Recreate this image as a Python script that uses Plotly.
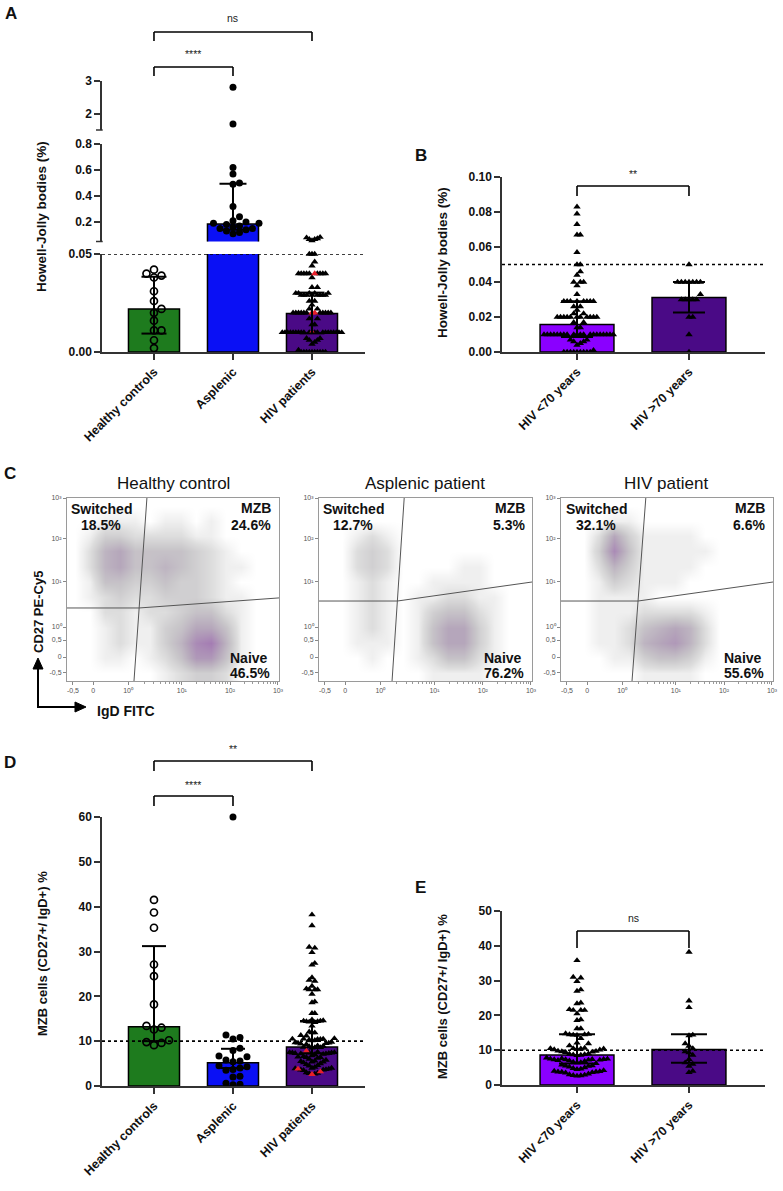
import math
import plotly.graph_objects as go

W, H = 783, 1191
FONT = "Arial, 'Liberation Sans', Helvetica, sans-serif"

# ------------------------------------------------------------------ data
cat_main = ["Healthy controls", "Asplenic", "HIV patients"]
cat_age = ["HIV &lt;70 years", "HIV &gt;70 years"]

# Panel A / B : Howell-Jolly bodies (%)
hc_hj = [0.042, 0.040, 0.039, 0.038, 0.031, 0.026, 0.022, 0.020, 0.016, 0.011, 0.011, 0.006, 0.002]
asp_hj = [2.81, 1.68, 0.62, 0.57, 0.50, 0.49, 0.32, 0.24, 0.21, 0.20, 0.19, 0.19, 0.18,
          0.17, 0.16, 0.15, 0.15, 0.14, 0.13, 0.12, 0.11]
hiv_lt70_hj = [0.083, 0.079, 0.073, 0.067, 0.067, 0.057, 0.050, 0.050, 0.046, 0.044,
               0.040, 0.040, 0.040, 0.038, 0.033,
               0.029, 0.029, 0.029, 0.029, 0.029, 0.029, 0.029, 0.029,
               0.026, 0.026, 0.024, 0.022, 0.022,
               0.020, 0.020, 0.020, 0.020, 0.020, 0.020, 0.020, 0.020, 0.020, 0.020, 0.020,
               0.017, 0.017, 0.014, 0.014,
               0.010, 0.010, 0.010, 0.010, 0.010, 0.010, 0.010, 0.010, 0.010, 0.010,
               0.010, 0.010, 0.010, 0.010, 0.010, 0.010, 0.010, 0.010, 0.010, 0.010,
               0.007, 0.007, 0.006, 0.006, 0.005, 0.004, 0.001,
               0.000, 0.000, 0.000, 0.000, 0.000, 0.000, 0.000, 0.000, 0.000]
hiv_gt70_hj = [0.050, 0.040, 0.040, 0.040, 0.040, 0.040, 0.040, 0.040, 0.033,
               0.030, 0.030, 0.030, 0.030, 0.030, 0.020, 0.020, 0.010, 0.000]
hiv_hj = hiv_lt70_hj + hiv_gt70_hj
hiv_hj_red = [0.040, 0.020, 0.020, 0.010]

bar_hj = [0.022, 0.185, 0.0197]
err_hj_lo = [0.0094, 0.14, 0.0095]
err_hj_hi = [0.0384, 0.495, 0.0303]
bar_hj_age = [0.0157, 0.0312]
err_hj_age_lo = [0.0086, 0.0226]
err_hj_age_hi = [0.029, 0.040]

# Panel D / E : MZB cells (CD27+/IgD+) %
hc_mzb = [41.5, 38.7, 35.3, 27.1, 24.5, 18.2, 13.4, 13.0, 12.6, 10.2, 9.8, 9.6, 9.1]
asp_mzb = [60.0, 11.4, 10.8, 10.5, 8.4, 7.9, 6.7, 6.5, 5.8, 5.6, 5.4, 4.5, 4.3, 4.0,
           3.7, 3.5, 2.2, 2.0, 0.6, 0.4, 0.3]
hiv_lt70_mzb = [35.8, 31.0, 30.8, 29.8, 27.4, 27.0, 23.6, 23.4, 21.7, 21.5, 21.5, 21.5,
                20.5, 18.8, 18.6, 16.2, 16.2, 14.8, 14.6, 14.5, 14.5, 14.4, 14.3, 13.4,
                12.1, 11.9, 11.3, 10.6, 10.5, 10.5, 10.4, 10.4, 10.3, 10.2, 10.1, 9.8,
                9.7, 9.6, 9.5, 9.4, 9.0, 8.9, 8.8, 8.7, 8.6, 8.5, 7.8, 7.6, 7.5, 7.5,
                7.4, 7.4, 7.3, 7.3, 7.2, 7.2, 7.1, 7.0, 6.8, 6.6, 6.5, 6.4, 6.2, 5.8,
                5.6, 5.5, 5.4, 5.2, 5.0, 4.8, 4.6, 4.5, 4.2, 4.0, 3.9, 3.8, 3.8, 3.7,
                3.6, 3.5, 3.2, 3.0, 2.9, 2.8, 2.7, 2.6]
hiv_gt70_mzb = [38.2, 24.2, 22.3, 14.4, 14.2, 11.9, 11.2, 10.5, 9.6, 9.3, 8.6, 7.4,
                6.4, 6.0, 5.4, 4.0, 3.6]
hiv_mzb = hiv_lt70_mzb + hiv_gt70_mzb
hiv_mzb_red = [8.0, 3.8, 3.2, 2.6]

bar_mzb = [13.2, 5.2, 8.7]
err_mzb_lo = [10.0, 4.0, 7.3]
err_mzb_hi = [31.2, 8.3, 14.5]
bar_mzb_age = [8.6, 10.2]
err_mzb_age_lo = [6.2, 6.4]
err_mzb_age_hi = [14.6, 14.6]

# Panel C : flow cytometry (density read as 0-9 levels, 14 cols x 12 rows, top row first)
flow_titles = ["Healthy control", "Asplenic patient", "HIV patient"]
pct_switched = ["18.5%", "12.7%", "32.1%"]
pct_mzb = ["24.6%", "5.3%", "6.6%"]
pct_naive = ["46.5%", "76.2%", "55.6%"]
density_hc = [
    [0, 0, 0, 0, 0, 0, 0, 0, 0, 0, 0, 0, 0, 0],
    [0, 0, 1, 1, 1, 0, 1, 1, 0, 1, 0, 0, 0, 0],
    [0, 1, 3, 3, 2, 2, 2, 2, 1, 1, 0, 0, 0, 0],
    [0, 2, 5, 6, 4, 4, 4, 4, 3, 2, 1, 0, 0, 0],
    [0, 2, 5, 6, 4, 4, 5, 4, 3, 2, 1, 1, 0, 0],
    [0, 1, 4, 4, 3, 3, 4, 3, 3, 2, 1, 0, 0, 0],
    [0, 1, 2, 3, 2, 2, 3, 3, 3, 2, 1, 1, 0, 0],
    [0, 0, 2, 2, 1, 2, 2, 3, 4, 4, 2, 1, 0, 0],
    [0, 0, 1, 2, 1, 1, 3, 4, 6, 6, 4, 1, 0, 0],
    [0, 0, 1, 2, 1, 1, 3, 5, 8, 9, 5, 1, 0, 0],
    [0, 0, 1, 1, 0, 1, 2, 4, 7, 7, 4, 1, 0, 0],
    [0, 0, 0, 0, 0, 0, 1, 2, 3, 3, 2, 0, 0, 0],
]
density_asp = [
    [0, 0, 0, 0, 0, 0, 0, 0, 0, 0, 0, 0, 0, 0],
    [0, 0, 0, 0, 0, 0, 0, 0, 0, 0, 0, 0, 0, 0],
    [0, 0, 1, 2, 1, 0, 0, 0, 0, 0, 0, 0, 0, 0],
    [0, 0, 2, 3, 2, 0, 0, 0, 0, 0, 0, 0, 0, 0],
    [0, 0, 2, 3, 2, 0, 0, 0, 0, 1, 1, 0, 0, 0],
    [0, 0, 1, 2, 1, 0, 0, 1, 1, 1, 1, 0, 0, 0],
    [0, 0, 1, 2, 1, 0, 1, 1, 2, 2, 1, 1, 0, 0],
    [0, 0, 1, 2, 1, 0, 1, 3, 4, 4, 2, 1, 0, 0],
    [0, 0, 1, 2, 1, 0, 1, 4, 6, 6, 3, 1, 0, 0],
    [0, 0, 1, 1, 1, 0, 1, 4, 6, 6, 3, 1, 0, 0],
    [0, 0, 0, 1, 0, 0, 1, 2, 4, 4, 2, 1, 0, 0],
    [0, 0, 0, 0, 0, 0, 0, 1, 1, 1, 1, 0, 0, 0],
]
density_hiv = [
    [0, 0, 0, 0, 0, 0, 0, 0, 0, 0, 0, 0, 0, 0],
    [0, 0, 0, 1, 1, 0, 0, 0, 0, 0, 0, 0, 0, 0],
    [0, 0, 2, 6, 3, 1, 1, 1, 1, 0, 0, 0, 0, 0],
    [0, 0, 3, 8, 4, 1, 1, 1, 1, 1, 0, 0, 0, 0],
    [0, 0, 2, 5, 3, 1, 1, 1, 1, 0, 0, 0, 0, 0],
    [0, 0, 1, 3, 2, 1, 1, 1, 0, 0, 0, 0, 0, 0],
    [0, 0, 1, 1, 1, 1, 0, 0, 0, 0, 0, 0, 0, 0],
    [0, 0, 1, 1, 1, 2, 2, 2, 2, 1, 0, 0, 0, 0],
    [0, 0, 1, 1, 2, 4, 5, 6, 5, 2, 0, 0, 0, 0],
    [0, 0, 1, 1, 2, 5, 6, 7, 5, 2, 0, 0, 0, 0],
    [0, 0, 0, 1, 1, 3, 4, 4, 3, 1, 0, 0, 0, 0],
    [0, 0, 0, 0, 0, 1, 1, 1, 1, 0, 0, 0, 0, 0],
]
# gates: vertical line top/bottom x, horizontal line left/right y (axis fractions)
gate_vert_top = [0.377, 0.400, 0.400]
gate_vert_bot = [0.316, 0.343, 0.335]
gate_h_left = [0.399, 0.437, 0.437]
gate_h_right = [0.454, 0.541, 0.541]
flow_x_ticks = [0.028, 0.123, 0.288, 0.542, 0.769, 0.995]
flow_x_text = ["-0,5", "0", "10⁰", "10¹", "10²", "10³"]
flow_y_ticks = [0.044, 0.131, 0.224, 0.295, 0.546, 0.776, 1.0]
flow_y_text = ["-0,5", "0", "0,5", "10⁰", "10¹", "10²", "10³"]

# ------------------------------------------------------------------ helpers
def P(x):
    return x / W


def Q(y):
    return 1 - y / H


def swarm(vals, to_px, step, dy_min):
    order = sorted(range(len(vals)), key=lambda i: vals[i])
    cands = [0]
    for n in range(1, 80):
        cands += [n, -n]
    placed = []
    offs = [0.0] * len(vals)
    for i in order:
        y = to_px(vals[i])
        xx = 0
        for c in cands:
            xx = c * step
            if all(not (abs(px_ - xx) < step * 0.999 and abs(py_ - y) < dy_min) for px_, py_ in placed):
                break
        placed.append((xx, y))
        offs[i] = xx
    return offs


def flagged(vals, flags):
    used = set()
    for f in flags:
        best = min((i for i in range(len(vals)) if i not in used), key=lambda i: abs(vals[i] - f))
        used.add(best)
    return used


def a_px(v):
    if v <= 0.05:
        return v * 1960
    if v <= 0.8:
        return 110.5 + (v - 0.05) * 130
    return 222.0 + (v - 1.5) * 32.7


GREEN = "#1e7b1e"
BLUE = "#0a10f5"
INDIGO = "#4a0a86"
VIOLET = "#8a00ff"
RED = "#e8202a"
TRI = 6.5

fig = go.Figure()

# ------------------------------------------------------------------ axes
yfont = dict(family=FONT, size=12, color="#111", weight="bold")
xfont = dict(family=FONT, size=12.5, color="#111", weight="bold")
ycommon = dict(showline=True, linecolor="#333", linewidth=1.5, ticks="outside", ticklen=6,
               tickwidth=1.5, tickcolor="#333", showgrid=False, zeroline=False,
               tickfont=yfont, fixedrange=True, automargin=False)
xcommon = dict(showline=True, linecolor="#333", linewidth=1.5, ticks="outside", ticklen=6,
               tickwidth=1.5, tickcolor="#333", showgrid=False, zeroline=False,
               tickfont=xfont, tickangle=-45, fixedrange=True, automargin=False)

A_XD = [P(102), P(365)]
A_XR = [-0.658, 2.671]
B_XD = [P(502), P(765)]
B_XR = [-0.670, 1.679]

layout = dict(
    width=W, height=H, margin=dict(l=0, r=0, t=0, b=0, pad=0, autoexpand=False),
    paper_bgcolor="white", plot_bgcolor="white", showlegend=False,
    font=dict(family=FONT, color="#111"),
)
# A (broken axis: three stacked segments)
layout["xaxis"] = dict(xcommon, domain=A_XD, range=A_XR, anchor="y",
                       tickvals=[0, 1, 2], ticktext=cat_main)
layout["yaxis"] = dict(ycommon, domain=[Q(352), Q(254)], range=[0, 0.05], anchor="x",
                       tickvals=[0, 0.05], ticktext=["0.00", "0.05"])
layout["xaxis2"] = dict(domain=A_XD, range=A_XR, anchor="y2", visible=False, fixedrange=True, automargin=False)
layout["yaxis2"] = dict(ycommon, domain=[Q(241.5), Q(144)], range=[0.05, 0.8], anchor="x2",
                        tickvals=[0.2, 0.4, 0.6, 0.8], ticktext=["0.2", "0.4", "0.6", "0.8"])
layout["xaxis3"] = dict(domain=A_XD, range=A_XR, anchor="y3", visible=False, fixedrange=True, automargin=False)
layout["yaxis3"] = dict(ycommon, domain=[Q(130), Q(81)], range=[1.5, 3], anchor="x3",
                        tickvals=[2, 3], ticktext=["2", "3"])
# B
layout["xaxis4"] = dict(xcommon, domain=B_XD, range=B_XR, anchor="y4",
                        tickvals=[0, 1], ticktext=cat_age)
layout["yaxis4"] = dict(ycommon, domain=[Q(352), Q(177)], range=[0, 0.1], anchor="x4",
                        tickvals=[0, 0.02, 0.04, 0.06, 0.08, 0.10],
                        ticktext=["0.00", "0.02", "0.04", "0.06", "0.08", "0.10"])
# C
dec = [(flow_x_ticks[2], flow_x_ticks[3]), (flow_x_ticks[3], flow_x_ticks[4]), (flow_x_ticks[4], flow_x_ticks[5])]
minor_x = [a + (b - a) * math.log10(m) for a, b in dec for m in range(2, 10)]
flow_xd = [[P(67), P(279)], [P(319), P(532)], [P(561), P(773)]]
for k in range(3):
    xa = "xaxis%d" % (5 + k)
    ya = "yaxis%d" % (5 + k)
    fl = dict(showline=True, mirror=True, linecolor="#9a9a9a", linewidth=1, ticks="outside",
              ticklen=3, tickwidth=1, tickcolor="#888", showgrid=False, zeroline=False,
              tickfont=dict(family=FONT, size=7, color="#555"), range=[0, 1], fixedrange=True,
              automargin=False)
    layout[xa] = dict(fl, domain=flow_xd[k], anchor="y%d" % (5 + k),
                      tickvals=flow_x_ticks, ticktext=flow_x_text,
                      minor=dict(tickvals=minor_x, ticks="outside", ticklen=2, tickcolor="#999", showgrid=False))
    layout[ya] = dict(fl, domain=[Q(681), Q(498)], anchor="x%d" % (5 + k),
                      tickvals=flow_y_ticks, ticktext=flow_y_text)
# D
layout["xaxis8"] = dict(xcommon, domain=A_XD, range=A_XR, anchor="y8",
                        tickvals=[0, 1, 2], ticktext=cat_main)
layout["yaxis8"] = dict(ycommon, domain=[Q(1086), Q(817)], range=[0, 60], anchor="x8",
                        tickvals=[0, 10, 20, 30, 40, 50, 60])
# E
layout["xaxis9"] = dict(xcommon, domain=B_XD, range=B_XR, anchor="y9",
                        tickvals=[0, 1], ticktext=cat_age)
layout["yaxis9"] = dict(ycommon, domain=[Q(1085), Q(911)], range=[0, 50], anchor="x9",
                        tickvals=[0, 10, 20, 30, 40, 50])

# ------------------------------------------------------------------ bars
def add_bars(xs, ys, colors, width, xa, ya):
    fig.add_trace(go.Bar(x=xs, y=ys, width=width, marker=dict(color=colors, line=dict(color="black", width=1.5)),
                         xaxis=xa, yaxis=ya, hoverinfo="skip"))


add_bars([0, 1, 2], bar_hj, [GREEN, BLUE, INDIGO], 0.646, "x", "y")
add_bars([1], [bar_hj[1]], [BLUE], 0.646, "x2", "y2")
add_bars([0, 1], bar_hj_age, [VIOLET, INDIGO], 0.66, "x4", "y4")
add_bars([0, 1, 2], bar_mzb, [GREEN, BLUE, INDIGO], 0.646, "x8", "y8")
add_bars([0, 1], bar_mzb_age, [VIOLET, INDIGO], 0.66, "x9", "y9")


# ------------------------------------------------------------------ points
def add_points(xs, ys, symbol, color, size, xa, ya, open_=False):
    if not xs:
        return
    if open_:
        mk = dict(symbol="circle-open", size=size, color="black", line=dict(width=1.7, color="black"))
    else:
        mk = dict(symbol=symbol, size=size, color=color, line=dict(width=0))
    fig.add_trace(go.Scatter(x=xs, y=ys, mode="markers", marker=mk, cliponaxis=False,
                             xaxis=xa, yaxis=ya, hoverinfo="skip"))


def a_axis(v):
    if v <= 0.05:
        return ("x", "y")
    if v <= 0.8:
        return ("x2", "y2")
    return ("x3", "y3")


def group_points(vals, center, offs, ppu, axis_fn, symbol, size, open_=False, red_idx=()):
    buckets = {}
    for i, v in enumerate(vals):
        ax = axis_fn(v)
        col = RED if i in red_idx else "black"
        buckets.setdefault((ax, col), ([], []))
        buckets[(ax, col)][0].append(center + offs[i] / ppu)
        buckets[(ax, col)][1].append(v)
    for (ax, col), (xs, ys) in sorted(buckets.items(), key=lambda kv: kv[0][1] == RED):
        add_points(xs, ys, symbol, col, size, ax[0], ax[1], open_=open_)


# A
group_points(hc_hj, 0, swarm(hc_hj, a_px, 7.5, 7.5), 79, a_axis, "circle", 7, open_=True)
group_points(asp_hj, 1, swarm(asp_hj, a_px, 6.5, 6.5), 79, a_axis, "circle", 7)
group_points(hiv_hj, 2, swarm(hiv_hj, a_px, 2.7, 6), 79, a_axis, "triangle-up", TRI,
             red_idx=flagged(hiv_hj, hiv_hj_red))
# B
bpx = lambda v: v * 1750
group_points(hiv_lt70_hj, 0, swarm(hiv_lt70_hj, bpx, 3.3, 6), 112, lambda v: ("x4", "y4"), "triangle-up", TRI)
group_points(hiv_gt70_hj, 1, swarm(hiv_gt70_hj, bpx, 3.8, 6), 112, lambda v: ("x4", "y4"), "triangle-up", TRI)
# D
dpx = lambda v: v * 4.48
group_points(hc_mzb, 0, swarm(hc_mzb, dpx, 7.5, 7.5), 79, lambda v: ("x8", "y8"), "circle", 7, open_=True)
group_points(asp_mzb, 1, swarm(asp_mzb, dpx, 7, 7), 79, lambda v: ("x8", "y8"), "circle", 7)
group_points(hiv_mzb, 2, swarm(hiv_mzb, dpx, 2.8, 6), 79, lambda v: ("x8", "y8"), "triangle-up", TRI,
             red_idx=flagged(hiv_mzb, hiv_mzb_red))
# E
epx = lambda v: v * 3.49
group_points(hiv_lt70_mzb, 0, swarm(hiv_lt70_mzb, epx, 3.8, 6), 112, lambda v: ("x9", "y9"), "triangle-up", TRI)
group_points(hiv_gt70_mzb, 1, swarm(hiv_gt70_mzb, epx, 3.8, 6), 112, lambda v: ("x9", "y9"), "triangle-up", TRI)


# ------------------------------------------------------------------ error bars
def add_err(center, lo, hi, cap, xa, ya):
    xs = [center, center, None, center - cap, center + cap, None, center - cap, center + cap]
    ys = [lo, hi, None, hi, hi, None, lo, lo]
    fig.add_trace(go.Scatter(x=xs, y=ys, mode="lines", line=dict(color="black", width=2),
                             xaxis=xa, yaxis=ya, hoverinfo="skip", cliponaxis=False))


for i in (0, 2):
    add_err(i, err_hj_lo[i], err_hj_hi[i], 12.5 / 79, "x", "y")
add_err(1, err_hj_lo[1], err_hj_hi[1], 13.5 / 79, "x2", "y2")
for i in range(2):
    add_err(i, err_hj_age_lo[i], err_hj_age_hi[i], 16 / 112, "x4", "y4")
for i in range(3):
    add_err(i, err_mzb_lo[i], err_mzb_hi[i], 12 / 79, "x8", "y8")
for i in range(2):
    add_err(i, err_mzb_age_lo[i], err_mzb_age_hi[i], 18 / 112, "x9", "y9")

# ------------------------------------------------------------------ flow plots
nc, nr = 14, 12
xc = [(i + 0.5) / nc for i in range(nc)]
yc = [(j + 0.5) / nr for j in range(nr)]
flow_scale = [[0.0, "#ffffff"], [0.11, "#efefef"], [0.22, "#dddddd"], [0.4, "#c9c7ca"],
              [0.65, "#b6a8bb"], [1.0, "#a47cb3"]]
for k, dens in enumerate([density_hc, density_asp, density_hiv]):
    xa, ya = "x%d" % (5 + k), "y%d" % (5 + k)
    fig.add_trace(go.Heatmap(x=xc, y=yc, z=dens[::-1], zmin=0, zmax=9, colorscale=flow_scale,
                             showscale=False, zsmooth="best", xaxis=xa, yaxis=ya, hoverinfo="skip"))
    vt, vb, hl, hr = gate_vert_top[k], gate_vert_bot[k], gate_h_left[k], gate_h_right[k]
    xi = vb + (vt - vb) * hl
    fig.add_trace(go.Scatter(x=[vt, vb, None, 0, xi, 1], y=[1, 0, None, hl, hl, hr], mode="lines",
                             line=dict(color="#555", width=1), xaxis=xa, yaxis=ya, hoverinfo="skip"))

# ------------------------------------------------------------------ shapes
shapes = []


def bracket(xref, c0, c1, ytop, ybot):
    for (x0, y0, x1, y1) in [(c0, ybot, c0, ytop), (c0, ytop, c1, ytop), (c1, ytop, c1, ybot)]:
        shapes.append(dict(type="line", xref=xref, yref="paper", x0=x0, x1=x1, y0=Q(y0), y1=Q(y1),
                           line=dict(color="black", width=1.6)))


bracket("x", 0, 2, 32, 41)
bracket("x", 0, 1, 67, 76)
bracket("x4", 0, 1, 186, 196)
bracket("x8", 0, 2, 761, 771)
bracket("x8", 0, 1, 796, 806)
bracket("x9", 0, 1, 931, 948)

for xr, yr, val in [("x domain", "y", 0.05), ("x4 domain", "y4", 0.05),
                    ("x8 domain", "y8", 10), ("x9 domain", "y9", 10)]:
    shapes.append(dict(type="line", xref=xr, yref=yr, x0=0, x1=1, y0=val, y1=val,
                       line=dict(color="black", width=1.6, dash="dot")))

# axis-break end caps of panel A
for yb in (241.5, 130):
    shapes.append(dict(type="line", xref="paper", yref="paper", x0=P(96), x1=P(102.7), y0=Q(yb), y1=Q(yb),
                       line=dict(color="#333", width=1.5)))


# axis arrows of panel C
def arrow(x0, y0, x1, y1):
    shapes.append(dict(type="line", xref="paper", yref="paper", x0=P(x0), y0=Q(y0), x1=P(x1), y1=Q(y1),
                       line=dict(color="black", width=2)))


arrow(38, 708, 38, 668)
arrow(37, 707, 76, 707)
shapes.append(dict(type="path", xref="paper", yref="paper",
                   path="M %f,%f L %f,%f L %f,%f Z" % (P(33), Q(669), P(43), Q(669), P(38), Q(658)),
                   fillcolor="black", line=dict(color="black", width=1)))
shapes.append(dict(type="path", xref="paper", yref="paper",
                   path="M %f,%f L %f,%f L %f,%f Z" % (P(75), Q(702), P(75), Q(712), P(86), Q(707)),
                   fillcolor="black", line=dict(color="black", width=1)))
layout["shapes"] = shapes

# ------------------------------------------------------------------ annotations
ann = []


def txt(text, x, y, size, bold=False, xanchor="center", angle=0, color="#111"):
    ann.append(dict(text=text, x=P(x), y=Q(y), xref="paper", yref="paper", showarrow=False,
                    xanchor=xanchor, yanchor="middle", textangle=angle,
                    font=dict(family=FONT, size=size, color=color, weight="bold" if bold else "normal")))


for lab, x, y in [("A", 11, 13), ("B", 421, 155), ("C", 10, 473), ("D", 10, 762), ("E", 420, 887)]:
    txt(lab, x, y, 17, bold=True)

txt("Howell-Jolly bodies (%)", 42, 217, 13.5, bold=True, angle=-90)
txt("Howell-Jolly bodies (%)", 442, 263, 13.5, bold=True, angle=-90)
txt("MZB cells (CD27+/ IgD+) %", 42, 954, 13, bold=True, angle=-90)
txt("MZB cells (CD27+/ IgD+) %", 442, 997, 13, bold=True, angle=-90)

txt("ns", 233, 18, 10.5, color="#222")
txt("****", 193, 54, 10.5, color="#222")
txt("**", 633, 174, 10.5, color="#222")
txt("**", 233, 749, 10.5, color="#222")
txt("****", 193, 785, 10.5, color="#222")
txt("ns", 633, 918, 10.5, color="#222")

flow_centers = [173, 425, 666]
sw_x = [101, 353, 596]
right_x = [273, 527, 767]
for k in range(3):
    txt(flow_titles[k], flow_centers[k], 483, 17)
    txt("Switched", sw_x[k], 509, 14, bold=True)
    txt(pct_switched[k], sw_x[k], 525, 14, bold=True)
    txt("MZB", right_x[k], 508, 14, bold=True, xanchor="right")
    txt(pct_mzb[k], right_x[k], 525, 14, bold=True, xanchor="right")
    txt("Naive", right_x[k] - 3, 658, 14, bold=True, xanchor="right")
    txt(pct_naive[k], right_x[k] - 1, 673, 14, bold=True, xanchor="right")

txt("CD27 PE-Cy5", 38, 612, 13, bold=True, angle=-90)
txt("IgD FITC", 95, 711, 14, bold=True, xanchor="left")
layout["annotations"] = ann

fig.update_layout(**layout)
fig.write_html("out.html")
